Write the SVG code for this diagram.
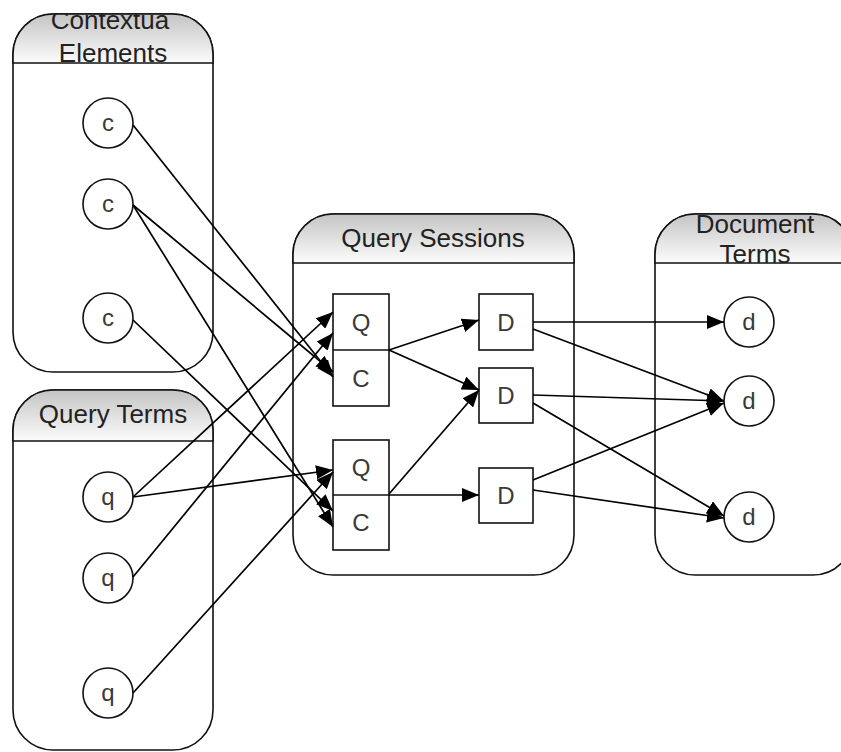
<svg xmlns="http://www.w3.org/2000/svg" width="841" height="752" viewBox="0 0 841 752">
<style>
.cont{fill:#fff;stroke:#111;stroke-width:1.6}
.hdr{fill:url(#hg);stroke:#111;stroke-width:1.6}
.ht{font-family:"Liberation Sans",Arial,sans-serif;font-size:26px;fill:#222;text-anchor:middle}
.lbl{font-family:"Liberation Sans",Arial,sans-serif;font-size:24px;fill:#3a3a3a;text-anchor:middle}
.nd{fill:#fff;stroke:#111;stroke-width:1.6}
.ed{fill:none;stroke:#000;stroke-width:1.7;marker-end:url(#ah)}
.ln{fill:none;stroke:#111;stroke-width:1.6}
</style>
<defs>
<linearGradient id="hg" x1="0" y1="0" x2="0" y2="1">
<stop offset="0" stop-color="#c4c4c4"/>
<stop offset="1" stop-color="#fcfcfc"/>
</linearGradient>
<marker id="ah" markerUnits="userSpaceOnUse" markerWidth="18" markerHeight="14" refX="17" refY="7" orient="auto">
<path d="M0,0 L17,7 L0,14 z" fill="#000"/>
</marker>
<clipPath id="c1"><path d="M13,63 V54 A40 40 0 0 1 53,14 H173 A40 40 0 0 1 213,54 V63 Z"/></clipPath>
<clipPath id="c4"><path d="M655,263 V254 A40 40 0 0 1 695,214 H813 A40 40 0 0 1 853,254 V263 Z"/></clipPath>
</defs>

<g id="contextual-elements">
<rect class="cont" x="13" y="14" width="200" height="358" rx="40" ry="40"/>
<path class="hdr" d="M13,63 V54 A40 40 0 0 1 53,14 H173 A40 40 0 0 1 213,54 V63 Z"/>
<g clip-path="url(#c1)">
<text class="ht" x="110" y="29">Contextua</text>
<text class="ht" x="113" y="62">Elements</text>
</g>
</g>

<g id="query-terms">
<rect class="cont" x="13" y="390" width="200" height="360" rx="40" ry="40"/>
<path class="hdr" d="M13,441 V430 A40 40 0 0 1 53,390 H173 A40 40 0 0 1 213,430 V441 Z"/>
<text class="ht" x="113" y="423">Query Terms</text>
</g>

<g id="query-sessions">
<rect class="cont" x="293" y="214" width="281" height="361" rx="40" ry="40"/>
<path class="hdr" d="M293,263 V254 A40 40 0 0 1 333,214 H534 A40 40 0 0 1 574,254 V263 Z"/>
<text class="ht" x="433" y="247">Query Sessions</text>
</g>

<g id="document-terms">
<rect class="cont" x="655" y="214" width="198" height="361" rx="40" ry="40"/>
<path class="hdr" d="M655,263 V254 A40 40 0 0 1 695,214 H813 A40 40 0 0 1 853,254 V263 Z"/>
<g clip-path="url(#c4)">
<text class="ht" x="755" y="233">Document</text>
<text class="ht" x="755" y="263">Terms</text>
</g>
</g>

<g id="c-1"><circle class="nd" cx="108" cy="123" r="25"/><text class="lbl" x="108" y="131">c</text></g>
<g id="c-2"><circle class="nd" cx="108" cy="204" r="25"/><text class="lbl" x="108" y="212">c</text></g>
<g id="c-3"><circle class="nd" cx="108" cy="318" r="25"/><text class="lbl" x="108" y="326">c</text></g>

<g id="q-1"><circle class="nd" cx="108" cy="497" r="25"/><text class="lbl" x="108" y="505">q</text></g>
<g id="q-2"><circle class="nd" cx="108" cy="578" r="25"/><text class="lbl" x="108" y="586">q</text></g>
<g id="q-3"><circle class="nd" cx="108" cy="693" r="25"/><text class="lbl" x="108" y="701">q</text></g>

<g id="d-1"><circle class="nd" cx="749" cy="322" r="25"/><text class="lbl" x="749" y="330">d</text></g>
<g id="d-2"><circle class="nd" cx="749" cy="401" r="25"/><text class="lbl" x="749" y="409">d</text></g>
<g id="d-3"><circle class="nd" cx="749" cy="517" r="25"/><text class="lbl" x="749" y="525">d</text></g>

<g id="session-1">
<rect class="nd" x="333" y="294" width="56" height="112"/>
<line class="ln" x1="333" y1="350" x2="389" y2="350"/>
<text class="lbl" x="361" y="331">Q</text>
<text class="lbl" x="361" y="387">C</text>
</g>
<g id="session-2">
<rect class="nd" x="333" y="440" width="56" height="110"/>
<line class="ln" x1="333" y1="495" x2="389" y2="495"/>
<text class="lbl" x="361" y="476">Q</text>
<text class="lbl" x="361" y="531">C</text>
</g>

<g id="D-1"><rect class="nd" x="479" y="294" width="54" height="56"/><text class="lbl" x="506" y="331">D</text></g>
<g id="D-2"><rect class="nd" x="479" y="368" width="54" height="55"/><text class="lbl" x="506" y="404">D</text></g>
<g id="D-3"><rect class="nd" x="479" y="468" width="54" height="55"/><text class="lbl" x="506" y="504">D</text></g>

<g id="connectors">
<line class="ed" x1="133" y1="125" x2="333" y2="377"/>
<line class="ed" x1="133" y1="205" x2="333" y2="372"/>
<line class="ed" x1="133" y1="205" x2="333" y2="527"/>
<line class="ed" x1="133" y1="320" x2="333" y2="511"/>
<line class="ed" x1="133" y1="497" x2="333" y2="312"/>
<line class="ed" x1="133" y1="497" x2="333" y2="470"/>
<line class="ed" x1="133" y1="577" x2="333" y2="333"/>
<line class="ed" x1="133" y1="693" x2="333" y2="472"/>
<line class="ed" x1="389" y1="350" x2="479" y2="320"/>
<line class="ed" x1="389" y1="350" x2="479" y2="390"/>
<line class="ed" x1="389" y1="494" x2="479" y2="390"/>
<line class="ed" x1="389" y1="495" x2="479" y2="495"/>
<line class="ed" x1="533" y1="322" x2="724" y2="322"/>
<line class="ed" x1="533" y1="329" x2="724" y2="401"/>
<line class="ed" x1="533" y1="395" x2="724" y2="401"/>
<line class="ed" x1="533" y1="403" x2="724" y2="516"/>
<line class="ed" x1="533" y1="480" x2="724" y2="403"/>
<line class="ed" x1="533" y1="490" x2="724" y2="518"/>
</g>
</svg>
